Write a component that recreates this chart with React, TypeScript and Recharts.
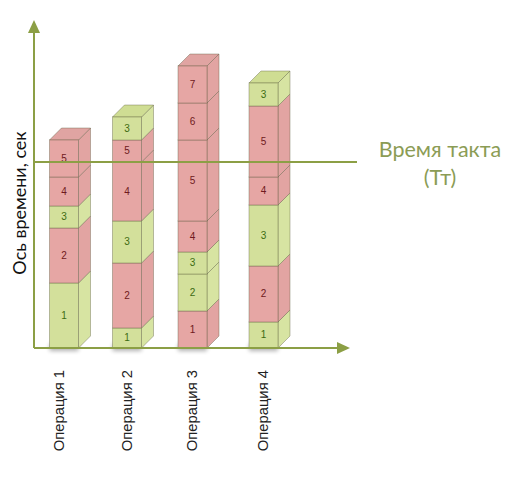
import React from "react";
import { Bar, BarChart, ReferenceLine, XAxis, YAxis } from "recharts";

const categories = ["Операция 1", "Операция 2", "Операция 3", "Операция 4"];

// segment durations from the bottom up, in seconds
const op1Values = [6.5, 5.5, 2.2, 2.9, 3.7];
const op2Values = [2.0, 6.5, 4.2, 5.9, 2.2, 2.3];
const op3Values = [3.7, 3.7, 2.2, 3.1, 8.1, 3.7, 3.7];
const op4Values = [2.6, 5.6, 6.1, 2.8, 7.1, 2.3];

const op1Labels = ["1", "2", "3", "4", "5"];
const op2Labels = ["1", "2", "3", "4", "5", "3"];
const op3Labels = ["1", "2", "3", "4", "5", "6", "7"];
const op4Labels = ["1", "2", "3", "4", "5", "3"];

// g = value adding (green), p = the rest (pink)
const op1Kinds = ["g", "p", "g", "p", "p"];
const op2Kinds = ["g", "p", "g", "p", "p", "g"];
const op3Kinds = ["p", "g", "g", "p", "p", "p", "p"];
const op4Kinds = ["g", "p", "g", "p", "p", "g"];

const taktTime = 18.6;
const maxTime = 32.6;

const values = [op1Values, op2Values, op3Values, op4Values];
const labels = [op1Labels, op2Labels, op3Labels, op4Labels];
const kinds = [op1Kinds, op2Kinds, op3Kinds, op4Kinds];
const segments = [0, 1, 2, 3, 4, 5, 6];

const rows = categories.map((name, c) => {
  const row: Record<string, string | number> = { name, col: c, count: values[c].length };
  values[c].forEach((v, s) => {
    row[`s${s}`] = v;
  });
  return row;
});

const AXIS = "#8c9f45";
const TEXT_GREEN = "#8b9c55";
const DEPTH = 12;
// columns in the picture are not evenly spaced
const BAR_NUDGE = [1.25, -1.75, -2.25, 2.75];
const TICK_NUDGE = [-3.25, -1.25, -2.25, 2.75];

const PALETTE: Record<string, { front: string; top: string; side: string; text: string }> = {
  g: { front: "#d3e09b", top: "#cfdd93", side: "#d7e4a2", text: "#3d6b12" },
  p: { front: "#e6a6a4", top: "#e0a4a2", side: "#e2a4a2", text: "#6e1a20" },
};
const EDGE = "rgba(90,90,60,0.38)";

function segmentShape(s: number) {
  return (props: any) => {
    const { x, y, width: w, height: h, payload } = props;
    const c = payload.col as number;
    if (payload[`s${s}`] == null) return <g />;
    const left = x + BAR_NUDGE[c];
    const right = left + w;
    const pal = PALETTE[kinds[c][s]];
    const isTop = s === payload.count - 1;
    return (
      <g>
        {s === 0 && (
          <rect
            x={left}
            y={y + h - 4}
            width={w}
            height={7}
            fill="#000"
            opacity={0.3}
            style={{ filter: "blur(2px)" }}
          />
        )}
        <polygon
          points={`${right},${y} ${right + DEPTH},${y - DEPTH} ${right + DEPTH},${y + h - DEPTH} ${right},${y + h}`}
          fill={pal.side}
          stroke={EDGE}
          strokeWidth={1}
        />
        {isTop && (
          <polygon
            points={`${left},${y} ${left + DEPTH},${y - DEPTH} ${right + DEPTH},${y - DEPTH} ${right},${y}`}
            fill={pal.top}
            stroke={EDGE}
            strokeWidth={1}
          />
        )}
        <rect x={left} y={y} width={w} height={h} fill={pal.front} stroke={EDGE} strokeWidth={1} />
        <text
          x={left + w / 2}
          y={y + h / 2 + 3}
          textAnchor="middle"
          fontFamily="Liberation Sans"
          fontSize={10}
          fill={pal.text}
        >
          {labels[c][s]}
        </text>
      </g>
    );
  };
}

function OperationTick({ x, y, payload, index }: any) {
  const tx = x + TICK_NUDGE[index];
  return (
    <text
      x={tx}
      y={y}
      transform={`rotate(-90 ${tx} ${y})`}
      textAnchor="end"
      dy={5}
      fontFamily="Liberation Sans"
      fontSize={14.8}
      fill="#222"
    >
      {payload.value}
    </text>
  );
}

function TaktLine({ x1, x2, y1, y2 }: any) {
  return <line x1={x1} x2={x2 + 9} y1={y1} y2={y2} stroke={AXIS} strokeWidth={2} />;
}

export default function App() {
  return (
    <div style={{ position: "absolute", left: 0, top: 0, width: 520, height: 480, background: "#fff" }}>
      <BarChart
        width={520}
        height={480}
        data={rows}
        barSize={29}
        margin={{ top: 22, right: 172, bottom: 0, left: 0 }}
      >
        <defs>
          <marker
            id="axisArrow"
            markerUnits="userSpaceOnUse"
            markerWidth={13}
            markerHeight={13}
            refX={11}
            refY={6.5}
            orient="auto-start-reverse"
          >
            <path d="M0,0.5 L13,6.5 L0,12.5 Z" fill={AXIS} />
          </marker>
        </defs>
        <XAxis
          dataKey="name"
          height={132}
          interval={0}
          padding={{ left: -4.75, right: 54.75 }}
          axisLine={{ stroke: AXIS, strokeWidth: 2, markerEnd: "url(#axisArrow)" }}
          tickLine={false}
          tick={<OperationTick />}
          tickMargin={16}
        />
        <YAxis
          width={34}
          domain={[0, maxTime]}
          tick={false}
          tickLine={false}
          axisLine={{ stroke: AXIS, strokeWidth: 2, markerStart: "url(#axisArrow)" }}
          label={{
            value: "Ось времени, сек",
            angle: -90,
            position: "insideLeft",
            dx: 15,
            dy: 18,
            style: { textAnchor: "middle", fontFamily: "Lato", fontSize: 18, fill: "#111" },
          }}
        />
        {segments.map((s) => (
          <Bar
            key={s}
            dataKey={`s${s}`}
            stackId="ops"
            isAnimationActive={false}
            shape={segmentShape(s)}
          />
        ))}
        <ReferenceLine y={taktTime} shape={<TaktLine />} />
        <text x={440} y={157} textAnchor="middle" fontFamily="Lato" fontSize={21.5} fill={TEXT_GREEN}>
          Время такта
        </text>
        <text x={440} y={185} textAnchor="middle" fontFamily="Lato" fontSize={21.5} fill={TEXT_GREEN}>
          (Тт)
        </text>
      </BarChart>
    </div>
  );
}
